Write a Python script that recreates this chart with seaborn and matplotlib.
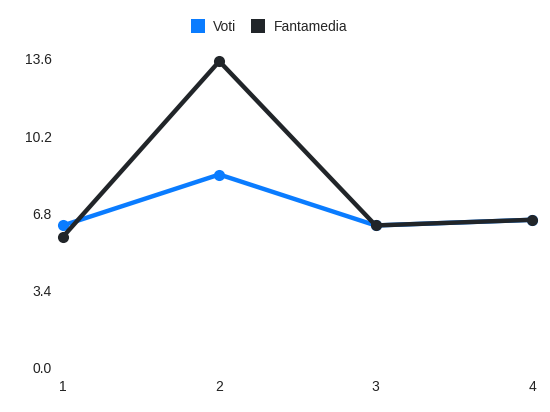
import matplotlib
matplotlib.use("Agg")
import matplotlib.pyplot as plt
import seaborn as sns
import pandas as pd
from matplotlib.lines import Line2D

giornate = [1, 2, 3, 4]
voti = [6.25, 8.5, 6.25, 6.5]
fantamedia = [5.75, 13.5, 6.25, 6.5]
yticks = [0.0, 3.4, 6.8, 10.2, 13.6]
series_names = ["Voti", "Fantamedia"]
colors = ["#0a7cff", "#212529"]

df = pd.DataFrame({
    "x": giornate * 2,
    "y": voti + fantamedia,
    "serie": [series_names[0]] * 4 + [series_names[1]] * 4,
})

sns.set_theme(style="white")
plt.rcParams["font.family"] = ["Liberation Sans", "DejaVu Sans"]

fig = plt.figure(figsize=(5.5, 4.12), dpi=100)
ax = fig.add_axes([0.1145, 0.1092, 0.8528, 0.7476])

sns.lineplot(data=df, x="x", y="y", hue="serie", hue_order=series_names,
             palette=colors, linewidth=3.2, marker="o", markersize=8,
             markeredgewidth=0, legend=False, ax=ax, clip_on=False)
for ln in ax.lines:
    ln.set_clip_on(False)

ax.set_xlim(1, 4)
ax.set_ylim(0, 13.6)
ax.set_xticks(giornate)
ax.set_xticklabels([str(g) for g in giornate])
ax.set_yticks(yticks)
ax.set_yticklabels([f"{v:.1f}" for v in yticks])
ax.tick_params(axis="both", length=0, labelsize=10, colors="#222222")
ax.tick_params(axis="y", pad=8)
ax.tick_params(axis="x", pad=9)
ax.set_xlabel("")
ax.set_ylabel("")
for s in ax.spines.values():
    s.set_visible(False)
ax.grid(False)

handles = [Line2D([], [], linestyle="none", marker="s", markersize=10.5,
                  markerfacecolor=c, markeredgewidth=0) for c in colors]
fig.legend(handles, series_names, loc="center", bbox_to_anchor=(0.489, 0.934),
           ncol=2, frameon=False, fontsize=10, handletextpad=0.6,
           columnspacing=1.1, handlelength=1.0)

fig.savefig("out.png", dpi=100)
